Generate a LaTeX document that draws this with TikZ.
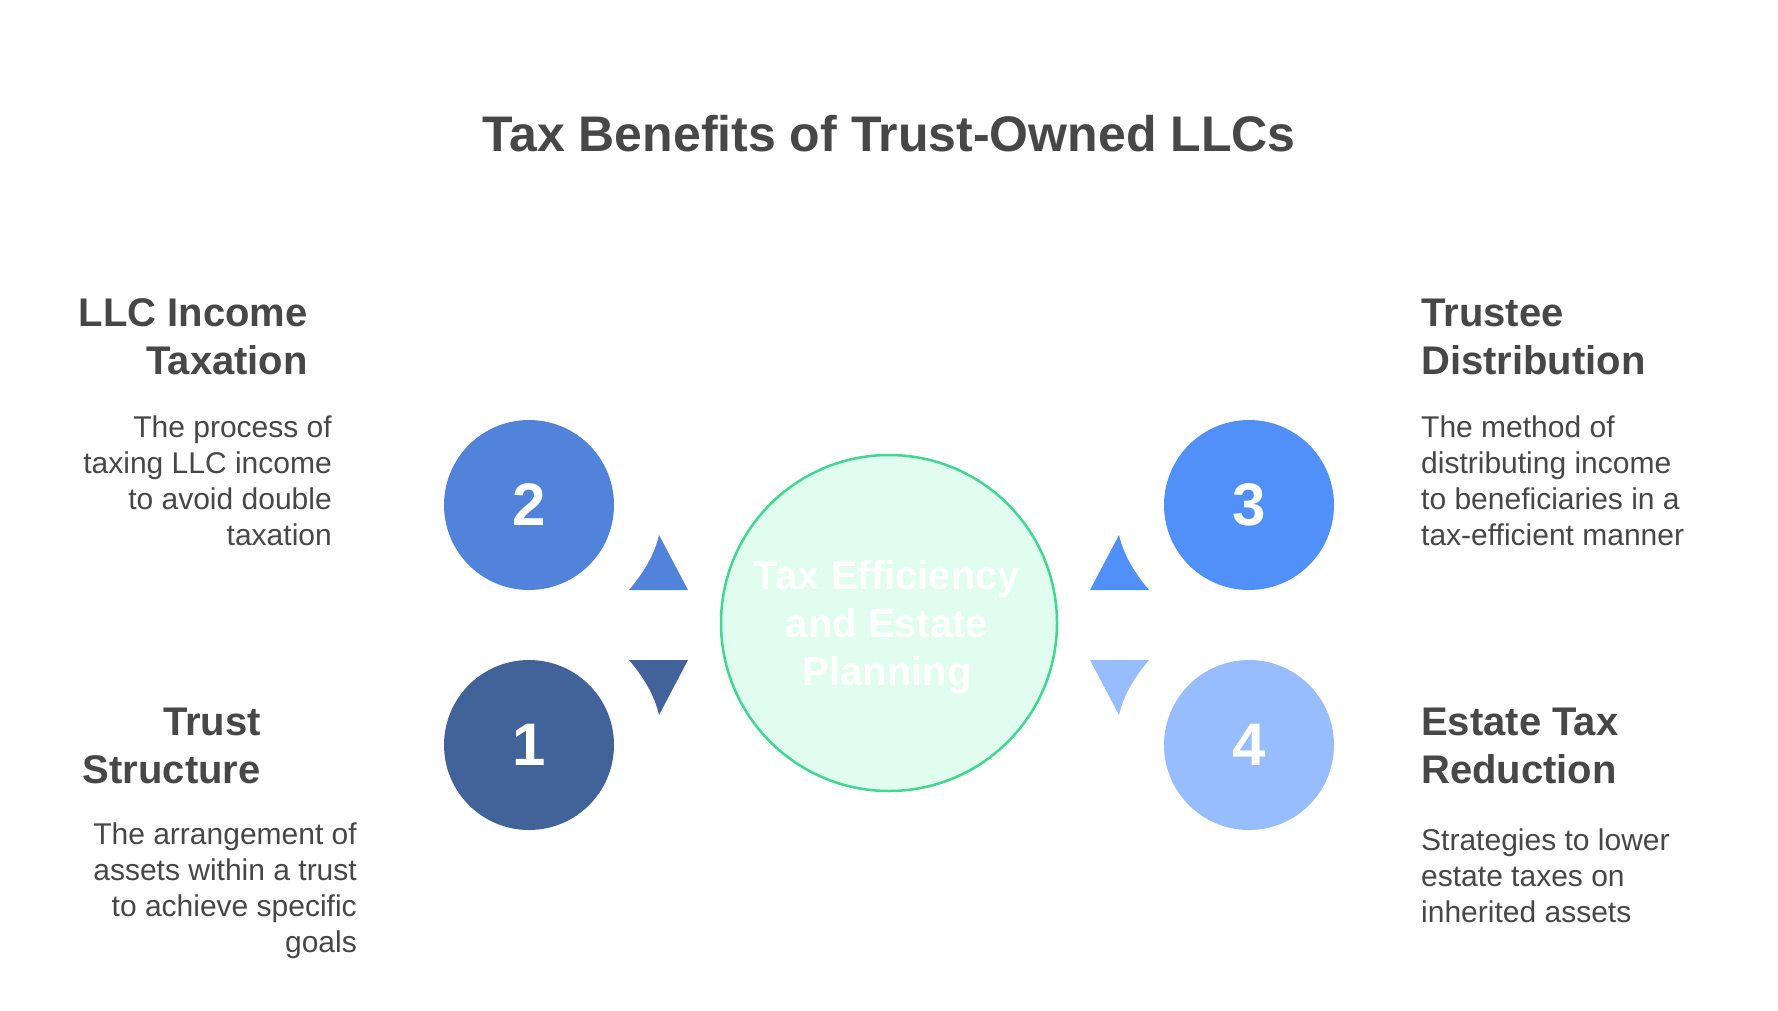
\documentclass[tikz,border=0pt]{standalone}
\usepackage{fontspec}
\setmainfont{Liberation Sans}
\definecolor{txt}{HTML}{474747}
\definecolor{cone}{HTML}{426399}
\definecolor{ctwo}{HTML}{5183DA}
\definecolor{cthree}{HTML}{5090F8}
\definecolor{cfour}{HTML}{97BDFE}
\definecolor{midfill}{HTML}{E0FDEF}
\definecolor{midline}{HTML}{3ED98E}
\tikzset{
  titletext/.style={font=\fontsize{50}{60}\selectfont\bfseries, text=txt, inner sep=0pt},
  headtext/.style={font=\fontsize{40}{48}\selectfont\bfseries, text=txt, inner sep=0pt},
  desctext/.style={font=\fontsize{30}{36}\selectfont, text=txt, inner sep=0pt},
  numcircle/.style={circle, minimum size=170pt, inner sep=0pt},
  numtext/.style={font=\fontsize{60}{72}\selectfont\bfseries, text=white, inner sep=0pt},
  midcircle/.style={circle, minimum size=336pt, inner sep=0pt, fill=midfill, draw=midline, line width=2.5pt},
  midtext/.style={font=\fontsize{40}{48}\selectfont\bfseries, text=white, inner sep=0pt, align=center}
}
\begin{document}
\begin{tikzpicture}[x=1pt,y=-1pt]
\useasboundingbox (0,0) rectangle (1778,1010);

% title
\node[titletext, anchor=base] (title) at (889,151) {Tax Benefits of Trust-Owned LLCs};

% central circle
\node[midcircle] (mid) at (889,623) {};
\node[midtext, anchor=north] (midlabel) at (887,555.4) {\strut Tax Efficiency\\and Estate\\Planning};

% numbered circles
\node[numcircle, fill=ctwo] (c2) at (529,505) {};
\node[numcircle, fill=cone] (c1) at (529,745) {};
\node[numcircle, fill=cthree] (c3) at (1249,505) {};
\node[numcircle, fill=cfour] (c4) at (1249,745) {};
\node[numtext] (n2) at (c2) {2};
\node[numtext] (n1) at (c1) {1};
\node[numtext] (n3) at (c3) {3};
\node[numtext] (n4) at (c4) {4};

% pointers
\fill[ctwo] (629,590) -- (688,590) -- (659,535) .. controls (654.3,555.6) and (642.7,573.9) .. (629,590) -- cycle;
\fill[cone] (629,660) -- (688,660) -- (659,715) .. controls (654.3,694.4) and (642.7,676.1) .. (629,660) -- cycle;
\fill[cthree] (1149,590) -- (1090,590) -- (1119,535) .. controls (1123.7,555.6) and (1135.3,573.9) .. (1149,590) -- cycle;
\fill[cfour] (1149,660) -- (1090,660) -- (1119,715) .. controls (1123.7,694.4) and (1135.3,676.1) .. (1149,660) -- cycle;

% left texts
\node[headtext, align=right, anchor=north east] (h2) at (308,292.4) {\strut LLC Income\\Taxation};
\node[desctext, align=right, anchor=north east] (d2) at (332,411.8) {\strut The process of\\taxing LLC income\\to avoid double\\taxation};
\node[headtext, align=right, anchor=north east] (h1) at (261,701.4) {\strut Trust\\Structure};
\node[desctext, align=right, anchor=north east] (d1) at (357,818.8) {\strut The arrangement of\\assets within a trust\\to achieve specific\\goals};

% right texts
\node[headtext, align=left, anchor=north west] (h3) at (1421,292.4) {\strut Trustee\\Distribution};
\node[desctext, align=left, anchor=north west] (d3) at (1421,411.8) {\strut The method of\\distributing income\\to beneficiaries in a\\tax-efficient manner};
\node[headtext, align=left, anchor=north west] (h4) at (1421,701.4) {\strut Estate Tax\\Reduction};
\node[desctext, align=left, anchor=north west] (d4) at (1421,824.8) {\strut Strategies to lower\\estate taxes on\\inherited assets};
\end{tikzpicture}
\end{document}
